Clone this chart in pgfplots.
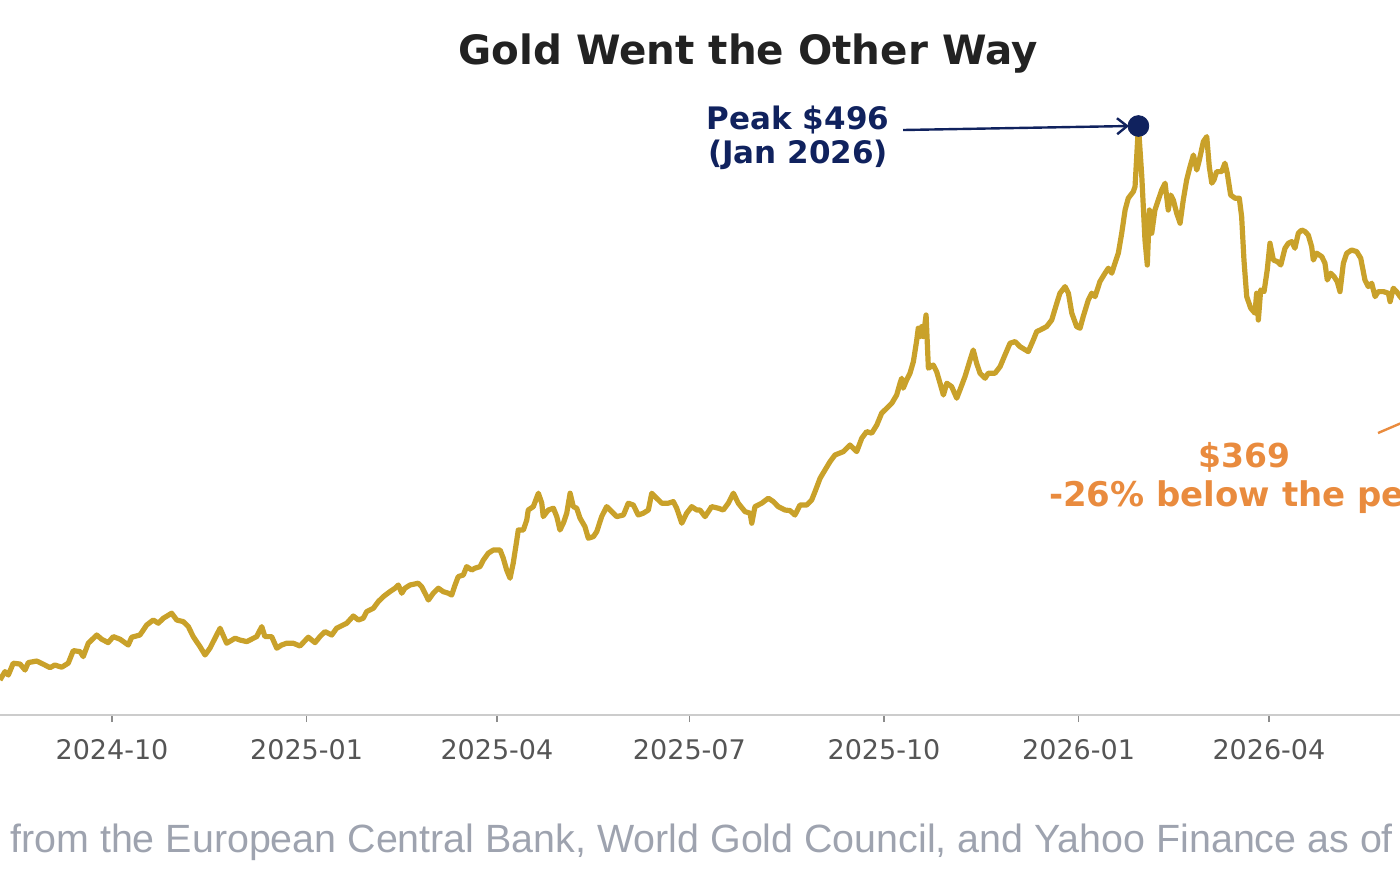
\documentclass[border=0pt]{standalone}
\usepackage{fontspec}
\setmainfont{DejaVu Sans}
\newfontfamily\capfont{Liberation Sans}
\usepackage{pgfplots}
\usepackage{pgfplotstable}
\pgfplotsset{compat=1.18}
\usetikzlibrary{arrows.meta}
\definecolor{gold}{RGB}{201,161,42}
\definecolor{navy}{RGB}{16,34,94}
\definecolor{orangeann}{RGB}{233,139,62}
\definecolor{axisgray}{RGB}{204,204,204}
\definecolor{tickgray}{RGB}{140,140,140}
\definecolor{labelgray}{RGB}{85,85,85}
\definecolor{titlegray}{RGB}{34,34,34}
\definecolor{capgray}{RGB}{158,163,175}

% day 0 = 2024-10-01, value in $
\pgfplotstableread{
d v
-53.0 219.0
-50.6 223.2
-49.0 221.5
-46.7 227.4
-43.5 227.0
-41.1 224.0
-39.6 227.7
-35.6 228.5
-32.5 226.9
-29.3 225.2
-27.0 226.5
-23.8 225.4
-20.7 227.4
-18.3 233.7
-15.1 233.2
-13.6 230.7
-11.2 237.4
-7.2 241.5
-4.9 239.4
-1.8 237.7
0.6 240.7
3.8 239.4
7.7 236.5
9.3 240.4
13.2 241.5
16.4 246.5
19.5 249.0
21.9 247.4
24.3 249.9
28.2 252.4
30.6 249.0
33.7 248.2
36.1 245.7
38.4 240.7
41.6 235.7
44.0 231.5
46.3 234.9
51.1 244.9
54.2 237.4
58.2 239.9
60.5 239.0
63.7 238.2
68.4 240.7
70.8 245.7
72.3 240.7
75.5 240.7
77.9 234.9
80.2 236.5
82.6 237.4
85.7 237.4
88.9 236.0
92.8 240.4
96.0 237.7
98.3 240.7
100.7 243.2
103.9 241.5
106.2 244.9
111.0 247.4
114.1 251.0
116.5 249.0
118.8 249.9
120.4 253.2
123.6 254.9
125.9 258.2
128.3 260.7
131.4 263.2
133.8 264.9
135.4 266.5
137.0 262.4
138.5 264.9
140.9 266.5
144.8 267.4
146.4 265.7
148.0 262.4
149.6 259.0
151.9 262.4
154.3 264.9
156.6 263.2
159.0 262.4
160.6 261.5
162.2 266.5
163.7 270.7
166.1 271.5
167.7 275.7
170.1 274.0
171.6 274.9
174.0 275.7
175.6 279.0
177.9 282.4
180.3 284.0
183.5 284.0
185.0 279.9
186.6 274.0
188.2 269.9
189.7 277.4
191.4 289.0
192.1 294.0
194.5 294.0
196.1 299.0
196.8 304.0
199.2 305.7
201.6 312.4
203.2 307.4
203.9 300.7
206.3 304.0
208.7 304.9
210.3 300.7
211.8 294.0
213.4 297.4
215.0 302.4
216.6 312.4
218.1 305.7
219.7 304.9
221.3 299.9
223.6 295.7
225.2 289.9
227.6 290.7
229.2 293.2
231.5 300.7
233.9 305.7
236.3 303.2
238.6 300.7
241.8 301.5
244.1 307.4
246.5 306.5
248.8 301.5
251.2 302.4
253.6 304.0
255.2 312.4
257.5 309.9
259.9 307.4
263.0 307.4
265.4 308.2
267.0 304.9
269.4 297.4
271.7 302.4
274.1 305.7
276.5 304.0
278.0 304.0
280.4 300.7
283.5 305.7
286.7 304.9
289.0 304.0
291.4 307.4
293.8 312.4
296.1 307.4
299.3 303.2
301.7 302.4
302.5 297.4
304.0 305.7
307.2 307.4
310.3 309.9
312.7 308.2
315.0 305.7
318.2 304.0
320.6 303.7
322.9 301.5
325.3 306.5
328.5 306.5
330.8 309.0
332.4 313.2
334.8 319.9
337.1 324.0
339.5 328.2
341.8 331.5
345.8 333.2
348.9 336.5
350.5 334.9
352.1 333.2
354.5 339.9
356.8 343.2
359.2 342.4
361.6 346.5
363.9 352.4
366.3 354.9
368.7 357.4
371.0 361.5
372.6 367.4
373.4 369.9
374.1 364.9
375.7 369.0
377.3 372.4
378.9 378.2
380.5 389.0
381.2 394.9
382.0 390.7
382.8 395.7
383.6 390.7
384.9 401.5
386.0 374.9
388.3 376.5
389.9 373.2
391.5 367.4
393.1 361.5
394.7 367.4
397.0 365.7
399.4 359.9
400.9 364.0
403.3 370.7
405.7 379.0
407.2 384.0
408.8 377.4
410.4 372.4
412.8 369.9
414.3 372.4
417.5 372.4
419.9 375.7
422.2 381.5
424.6 387.4
427.0 388.2
429.3 385.7
433.2 383.2
435.6 389.0
437.2 393.2
438.8 394.0
441.9 395.7
444.3 399.0
446.7 407.4
448.2 412.4
450.6 415.7
452.2 412.4
453.8 402.4
456.1 395.7
457.7 394.9
459.2 400.7
461.6 409.0
463.2 412.4
464.8 410.7
467.1 418.2
469.5 422.4
471.1 424.9
472.7 422.4
474.2 427.4
475.8 432.4
477.4 442.4
479.0 454.0
480.5 459.9
482.9 463.2
483.7 465.7
485.3 496.0
486.9 470.7
488.4 439.0
489.5 426.5
490.5 454.0
491.6 442.4
493.1 454.0
494.7 459.0
496.3 464.0
497.9 467.4
499.4 454.0
500.6 461.5
501.8 459.0
503.4 452.4
505.0 447.4
506.5 459.0
508.1 469.0
509.7 475.7
511.3 481.5
512.9 474.0
514.1 479.0
516.0 488.2
517.6 490.7
518.8 475.7
520.0 467.4
521.0 469.0
522.3 473.2
524.7 473.2
526.2 477.4
527.3 472.4
528.9 461.5
531.0 459.9
533.0 459.9
534.1 450.7
535.2 429.0
536.5 410.7
538.4 404.9
540.4 402.4
541.2 412.4
542.0 399.0
543.1 414.0
544.7 413.2
546.2 424.0
547.5 437.4
549.1 429.0
551.0 428.2
552.6 426.5
554.6 434.9
556.2 437.4
557.8 438.2
559.3 434.9
560.9 442.4
562.5 444.0
564.1 443.2
565.6 441.5
567.2 435.7
568.0 429.0
569.6 432.4
572.0 430.7
573.5 427.4
574.6 419.0
576.2 422.4
577.8 420.7
579.3 418.2
580.6 413.2
582.2 427.4
583.8 432.4
586.1 434.0
588.5 433.2
590.4 429.9
592.4 419.0
594.0 415.7
595.6 417.4
597.2 410.7
598.7 413.2
601.1 413.2
603.5 412.4
604.3 408.2
605.8 414.9
607.4 413.2
609.0 410.7
615.0 404.0
624.0 395.0
634.0 386.0
644.0 376.0
652.0 369.0
}\golddata

\begin{document}
\begin{tikzpicture}[x=0.5pt,y=-0.5pt]
\begin{axis}[
  at={(-7.45pt,-357.5pt)}, anchor=south west,
  x=1.0575pt, y=1pt,
  xmin=-60, xmax=680, ymin=201.5, ymax=540,
  axis x line*=bottom, hide y axis,
  axis line style={draw=axisgray, line width=1pt},
  xtick={0,92,182,273,365,457,547},
  xticklabels={2024-10,2025-01,2025-04,2025-07,2025-10,2026-01,2026-04},
  xtick align=outside, major tick length=3.5pt,
  tick style={draw=tickgray, line width=0.6pt},
  xticklabel style={font=\fontsize{13.5}{16}\selectfont, text=labelgray, yshift=-5pt},
  clip=false,
]
\addplot[gold, line width=2.6pt, line join=round] table[x=d, y=v] {\golddata};
\addplot[only marks, mark=*, mark size=5.2pt, navy] coordinates {(485.3,496.0)};
\end{axis}

% title
\node[font=\fontsize{20.2}{24}\selectfont\bfseries, text=titlegray] at (748,54) {Gold Went the Other Way};

% peak annotation
\node[font=\fontsize{15.5}{18}\selectfont\bfseries, text=navy, anchor=base] at (798,129) {Peak \$496};
\node[font=\fontsize{15.5}{18}\selectfont\bfseries, text=navy, anchor=base] at (798,163) {(Jan 2026)};
\draw[navy, line width=1.2pt, -{Straight Barb[length=5pt,width=8pt]}] (903,130) -- (1129,126);

% trough annotation
\node[font=\fontsize{16.5}{19}\selectfont\bfseries, text=orangeann, anchor=base] at (1244,467) {\$369};
\node[font=\fontsize{17}{20}\selectfont\bfseries, text=orangeann, anchor=base west] at (1042,506) {-26\% below the peak};
\draw[orangeann, line width=1.2pt, -{Straight Barb[length=5pt,width=8pt]}] (1378,433) -- (1455,400);

% caption
\node[font=\capfont\fontsize{19.7}{23}\selectfont, text=capgray, anchor=base west, inner sep=0pt] at (10,852) {from the European Central Bank, World Gold Council, and Yahoo Finance as of June 2026};

\pgfresetboundingbox
\path[use as bounding box] (0,0) rectangle (1400,874);
\end{tikzpicture}
\end{document}
